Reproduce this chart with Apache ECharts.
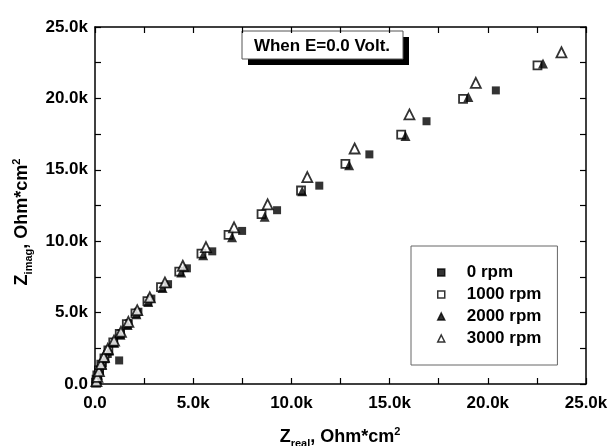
<!DOCTYPE html>
<html>
<head>
<meta charset="utf-8">
<script src="https://cdn.jsdelivr.net/npm/echarts@6/dist/echarts.min.js"></script>
<style>
  html, body { margin: 0; padding: 0; background: #fff; }
  #chart { width: 609px; height: 446px; }
</style>
</head>
<body>
<div id="chart"></div>
<script>
// values in kOhm*cm2, [Zreal, Zimag]
const rpm0 = [
  [0.06, 0.08], [0.1, 0.3], [0.15, 0.6], [0.25, 1.0], [0.4, 1.45], [0.65, 2.1],
  [1.23, 1.65], [0.97, 2.9], [1.32, 3.54], [1.72, 4.25], [2.21, 5.06], [2.87, 5.98],
  [3.72, 6.99], [4.68, 8.10], [5.97, 9.29], [7.49, 10.72], [9.27, 12.17],
  [11.42, 13.89], [13.97, 16.08], [16.88, 18.40], [20.41, 20.56]
];
const rpm1000 = [
  [0.05, 0.1], [0.08, 0.3], [0.12, 0.6], [0.2, 0.95], [0.32, 1.35], [0.48, 1.8],
  [0.68, 2.35], [0.93, 2.92], [1.26, 3.50], [1.62, 4.19], [2.06, 4.94], [2.67, 5.80],
  [3.36, 6.78], [4.29, 7.87], [5.42, 9.13], [6.80, 10.44], [8.48, 11.89],
  [10.49, 13.55], [12.75, 15.41], [15.59, 17.46], [18.74, 19.96], [22.53, 22.31]
];
const rpm2000 = [
  [0.06, 0.12], [0.1, 0.35], [0.15, 0.65], [0.22, 1.0], [0.35, 1.4], [0.52, 1.85],
  [0.72, 2.35], [0.98, 2.88], [1.3, 3.45], [1.66, 4.14], [2.11, 4.88], [2.71, 5.75],
  [3.44, 6.72], [4.39, 7.80], [5.51, 9.02], [6.98, 10.28], [8.64, 11.71],
  [10.55, 13.50], [12.94, 15.32], [15.81, 17.36], [19.01, 20.10], [22.81, 22.45]
];
const rpm3000 = [
  [0.07, 0.2], [0.12, 0.5], [0.2, 0.9], [0.3, 1.4], [0.45, 1.9], [0.65, 2.46],
  [0.97, 3.04], [1.32, 3.66], [1.70, 4.35], [2.15, 5.17], [2.79, 6.07], [3.56, 7.11],
  [4.47, 8.28], [5.65, 9.59], [7.08, 10.97], [8.79, 12.58], [10.81, 14.49],
  [13.22, 16.49], [16.01, 18.88], [19.39, 21.09], [23.75, 23.23]
];
const seriesNames = ["0 rpm", "1000 rpm", "2000 rpm", "3000 rpm"];
const axisMin = 0;
const axisMax = 25;
const axisStep = 5;

const font = "Liberation Sans, Arial, sans-serif";
const fmt = v => (v === 0 ? "0.0" : v.toFixed(1) + "k");

function makeAxis(pos, showLabel) {
  return {
    type: "value",
    position: pos,
    min: axisMin,
    max: axisMax,
    interval: axisStep,
    axisLine: { show: true, onZero: false, lineStyle: { color: "#000", width: 1.5 } },
    axisTick: { show: true, inside: true, length: 6, lineStyle: { color: "#000", width: 1.2 } },
    minorTick: { show: true, splitNumber: 2, length: 6, lineStyle: { color: "#000", width: 1.2 } },
    splitLine: { show: false },
    axisLabel: {
      show: showLabel,
      formatter: fmt,
      color: "#000",
      fontFamily: font,
      fontWeight: "bold",
      fontSize: 17
    }
  };
}

const nameRich = {
  b: { fontFamily: font, fontWeight: "bold", fontSize: 18, color: "#000" },
  s: { fontFamily: font, fontWeight: "bold", fontSize: 11, color: "#000", padding: [14, 0, 0, 0] },
  p: { fontFamily: font, fontWeight: "bold", fontSize: 11, color: "#000", padding: [0, 0, 10, 0] }
};

const chart = echarts.init(document.getElementById("chart"));

const xBottom = makeAxis("bottom", true);
xBottom.axisLabel.margin = 11;

const yLeft = makeAxis("left", true);
yLeft.axisLabel.margin = 7;

const symStyle = filled => ({
  color: filled ? "#000" : "#fff",
  borderColor: "#000",
  borderWidth: filled ? 0 : 1.8
});

const option = {
  backgroundColor: "#fff",
  animation: false,
  grid: { left: 95, right: 23, top: 27, bottom: 62, containLabel: false, outerBoundsMode: "none" },
  xAxis: [xBottom, makeAxis("top", false)],
  yAxis: [yLeft, makeAxis("right", false)],
  legend: {
    orient: "vertical",
    left: 411,
    top: 246,
    padding: [18, 16, 18, 26],
    itemWidth: 7,
    itemHeight: 7,
    itemGap: 5,
    borderColor: "#666",
    borderWidth: 1,
    backgroundColor: "#fff",
    data: seriesNames,
    itemStyle: { borderWidth: 1.5 },
    textStyle: {
      fontFamily: font,
      fontWeight: "bold",
      fontSize: 17,
      color: "#000",
      padding: [0, 0, 0, 17]
    }
  },
  graphic: [
    {
      type: "rect",
      shape: { x: 248, y: 37, width: 161, height: 28 },
      style: { fill: "#000" }
    },
    {
      type: "rect",
      shape: { x: 242, y: 31, width: 161, height: 28 },
      style: { fill: "#fff", stroke: "#555", lineWidth: 1 }
    },
    {
      type: "text",
      x: 322,
      y: 46,
      style: {
        text: "When E=0.0 Volt.",
        fontFamily: font,
        fontWeight: "bold",
        fontSize: 17,
        fill: "#000",
        align: "center",
        verticalAlign: "middle"
      }
    },
    {
      type: "text",
      x: 340,
      y: 437,
      style: {
        text: "{b|Z}{s|real}{b|, Ohm*cm}{p|2}",
        rich: nameRich,
        align: "center",
        verticalAlign: "middle"
      }
    },
    {
      type: "text",
      x: 22,
      y: 222,
      rotation: Math.PI / 2,
      style: {
        text: "{b|Z}{s|imag}{b|, Ohm*cm}{p|2}",
        rich: nameRich,
        align: "center",
        verticalAlign: "middle"
      }
    }
  ],
  series: [
    { name: seriesNames[0], type: "scatter", data: rpm0, symbol: "rect", symbolSize: 8, itemStyle: symStyle(true) },
    { name: seriesNames[1], type: "scatter", data: rpm1000, symbol: "rect", symbolSize: 8, itemStyle: symStyle(false) },
    { name: seriesNames[2], type: "scatter", data: rpm2000, symbol: "triangle", symbolSize: 10, itemStyle: symStyle(true) },
    { name: seriesNames[3], type: "scatter", data: rpm3000, symbol: "triangle", symbolSize: 10, itemStyle: symStyle(false) }
  ]
};

chart.setOption(option);
</script>
</body>
</html>
